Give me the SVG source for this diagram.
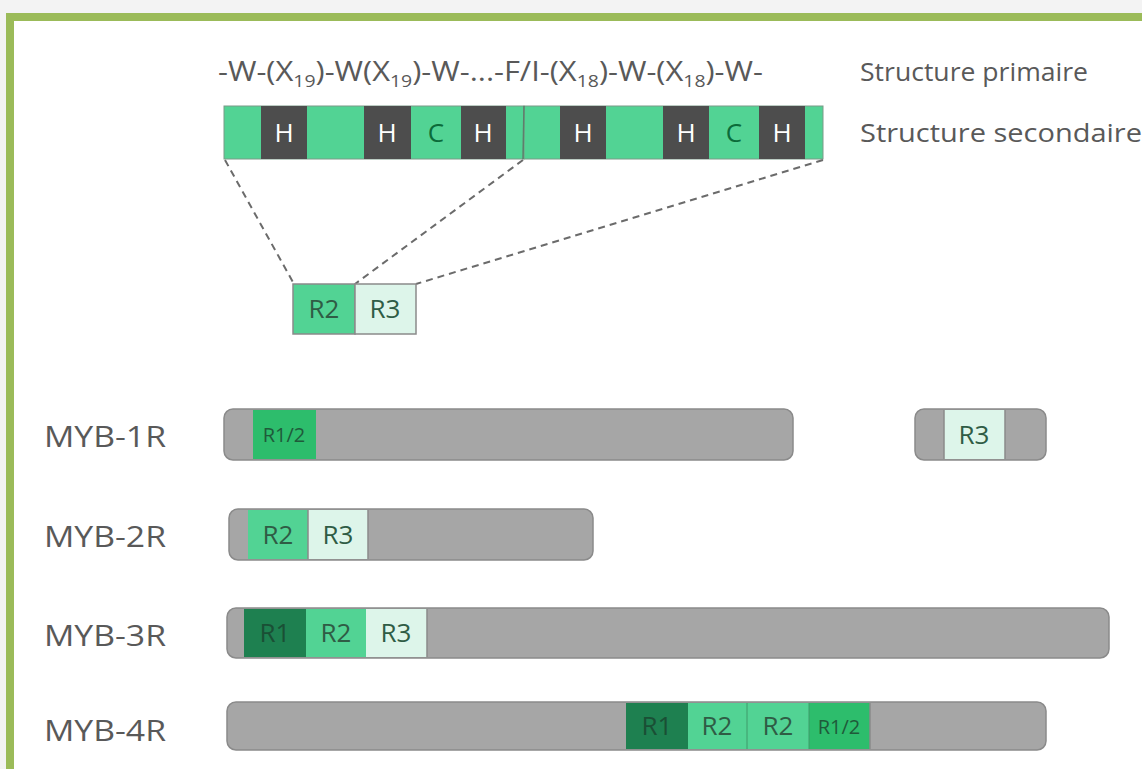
<svg xmlns="http://www.w3.org/2000/svg" width="1142" height="769" viewBox="0 0 1142 769">
<style>
text{font-family:"Open Sans","Noto Sans","DejaVu Sans",sans-serif;}
.lbl{font-size:30px;fill:#595959;}
.hd{font-size:25px;fill:#595959;}
.g{fill:#52d394;}
.h{fill:#4d4d4d;}
.ht{font-size:26px;fill:#ffffff;text-anchor:middle;}
.ct{font-size:26px;fill:#0b6b3a;text-anchor:middle;}
.bar{fill:#a6a6a6;stroke:#8a8a8a;stroke-width:1.5;}
.r1{fill:#1e8050;}
.r2{fill:#52d394;}
.r3{fill:#ddf5ea;}
.r12{fill:#2dbd6c;}
.rt{font-size:26px;fill:#2f5c45;text-anchor:middle;}
.rs{font-size:20px;fill:#1f5a3a;text-anchor:middle;}
.dash{stroke:#6b6b6b;stroke-width:2;stroke-dasharray:7 5;fill:none;}
</style>
<rect x="0" y="0" width="1142" height="769" fill="#f3f3f3"/>
<rect x="10" y="17" width="1150" height="770" fill="#ffffff" stroke="#9bbb59" stroke-width="8"/>

<g id="primary">
<text class="hd" x="218" y="81" font-size="27" textLength="545" lengthAdjust="spacingAndGlyphs" style="font-size:27px">-W-(X<tspan font-size="17" dy="6">19</tspan><tspan dy="-6">)-W(X</tspan><tspan font-size="17" dy="6">19</tspan><tspan dy="-6">)-W-...-F/I-(X</tspan><tspan font-size="17" dy="6">18</tspan><tspan dy="-6">)-W-(X</tspan><tspan font-size="17" dy="6">18</tspan><tspan dy="-6">)-W-</tspan></text>
<text class="hd" x="860" y="81" textLength="228" lengthAdjust="spacingAndGlyphs">Structure primaire</text>
</g>

<g id="secondary">
<rect class="g" x="224" y="106" width="300" height="53" stroke="#7a9a88" stroke-width="1"/>
<rect class="g" x="524" y="106" width="299" height="53" stroke="#7a9a88" stroke-width="1"/>
<rect class="h" x="261" y="106" width="46" height="53"/>
<rect class="h" x="364" y="106" width="47" height="53"/>
<rect class="h" x="461" y="106" width="45" height="53"/>
<rect class="h" x="560" y="106" width="46" height="53"/>
<rect class="h" x="663" y="106" width="46" height="53"/>
<rect class="h" x="759" y="106" width="46" height="53"/>
<line x1="524" y1="106" x2="523" y2="159" stroke="#5f7d6c" stroke-width="1.5"/>
<text class="ht" x="284" y="142">H</text>
<text class="ht" x="387" y="142">H</text>
<text class="ct" x="436" y="142">C</text>
<text class="ht" x="483" y="142">H</text>
<text class="ht" x="583" y="142">H</text>
<text class="ht" x="686" y="142">H</text>
<text class="ct" x="734" y="142">C</text>
<text class="ht" x="782" y="142">H</text>
<text class="hd" x="860" y="142" textLength="282" lengthAdjust="spacingAndGlyphs">Structure secondaire</text>
</g>

<g id="connectors">
<line class="dash" x1="225" y1="160" x2="294" y2="284"/>
<line class="dash" x1="523" y1="160" x2="355" y2="284"/>
<line class="dash" x1="823" y1="160" x2="416" y2="284"/>
</g>

<g id="r2r3">
<rect class="r2" x="293" y="284" width="62" height="50" stroke="#8a8a8a" stroke-width="1.5"/>
<rect class="r3" x="355" y="284" width="61" height="50" stroke="#8a8a8a" stroke-width="1.5"/>
<text class="rt" x="324" y="318">R2</text>
<text class="rt" x="385" y="318">R3</text>
</g>

<g id="myb1r">
<text class="lbl" x="44" y="447" textLength="122" lengthAdjust="spacingAndGlyphs">MYB-1R</text>
<rect class="bar" x="224" y="409" width="569" height="51" rx="9"/>
<rect class="r12" x="253" y="410" width="63" height="49"/>
<text class="rs" x="284" y="442">R1/2</text>
<rect class="bar" x="915" y="409" width="131" height="51" rx="9"/>
<rect class="r3" x="944" y="410" width="61" height="49"/>
<line x1="944" y1="410" x2="944" y2="459" stroke="#8a8a8a" stroke-width="1.5"/>
<line x1="1005" y1="410" x2="1005" y2="459" stroke="#8a8a8a" stroke-width="1.5"/>
<text class="rt" x="974" y="444">R3</text>
</g>

<g id="myb2r">
<text class="lbl" x="44" y="547" textLength="122" lengthAdjust="spacingAndGlyphs">MYB-2R</text>
<rect class="bar" x="229" y="509" width="364" height="51" rx="9"/>
<rect class="r2" x="248" y="510" width="60" height="49"/>
<rect class="r3" x="308" y="510" width="60" height="49"/>
<line x1="308" y1="510" x2="308" y2="559" stroke="#8a8a8a" stroke-width="1.5"/>
<line x1="368" y1="510" x2="368" y2="559" stroke="#8a8a8a" stroke-width="1.5"/>
<text class="rt" x="278" y="544">R2</text>
<text class="rt" x="338" y="544">R3</text>
</g>

<g id="myb3r">
<text class="lbl" x="44" y="646" textLength="122" lengthAdjust="spacingAndGlyphs">MYB-3R</text>
<rect class="bar" x="227" y="608" width="882" height="50" rx="9"/>
<rect class="r1" x="244" y="609" width="62" height="48"/>
<rect class="r2" x="306" y="609" width="60" height="48"/>
<rect class="r3" x="366" y="609" width="61" height="48"/>
<line x1="427" y1="609" x2="427" y2="657" stroke="#8a8a8a" stroke-width="1.5"/>
<text class="rt" x="275" y="642" style="fill:#1a4f35">R1</text>
<text class="rt" x="336" y="642">R2</text>
<text class="rt" x="396" y="642">R3</text>
</g>

<g id="myb4r">
<text class="lbl" x="44" y="741" textLength="122" lengthAdjust="spacingAndGlyphs">MYB-4R</text>
<rect class="bar" x="227" y="702" width="819" height="48" rx="9"/>
<rect class="r1" x="626" y="703" width="62" height="46"/>
<rect class="r2" x="688" y="703" width="59" height="46"/>
<rect class="r2" x="747" y="703" width="62" height="46"/>
<rect class="r12" x="809" y="703" width="61" height="46"/>
<line x1="747" y1="703" x2="747" y2="749" stroke="#3f9a6a" stroke-width="1"/>
<line x1="809" y1="703" x2="809" y2="749" stroke="#3f9a6a" stroke-width="1"/>
<line x1="870" y1="703" x2="870" y2="749" stroke="#8a8a8a" stroke-width="1.5"/>
<text class="rt" x="657" y="735" style="fill:#1a4f35">R1</text>
<text class="rt" x="717" y="735">R2</text>
<text class="rt" x="778" y="735">R2</text>
<text class="rs" x="839" y="734">R1/2</text>
</g>
</svg>
